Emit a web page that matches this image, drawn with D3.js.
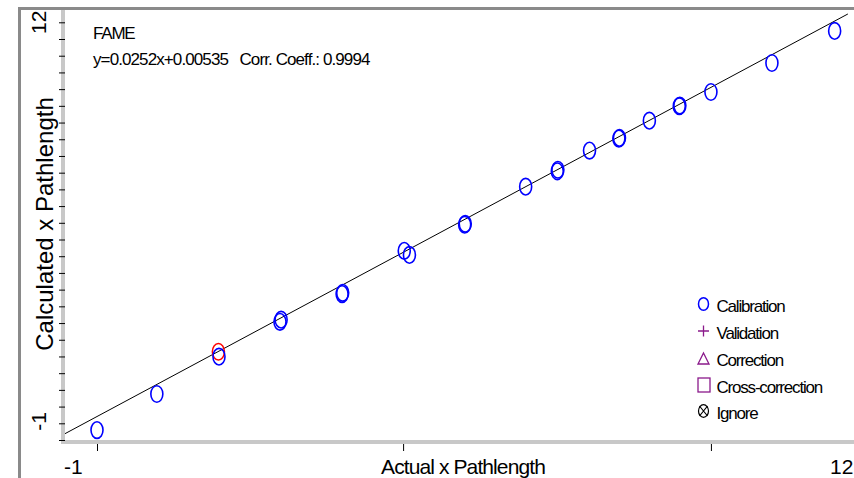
<!DOCTYPE html>
<html>
<head>
<meta charset="utf-8">
<script src="https://cdn.jsdelivr.net/npm/d3@7"></script>
<style>
  body { margin: 0; background: #fff; }
  text { font-family: "Liberation Sans", Arial, sans-serif; fill: #000; white-space: pre; }
</style>
</head>
<body>
<div id="chart-area"></div>
<script>
// reference vs predicted values (x pathlength)
var actual     = [-1.00, 0.04, 1.12, 2.18, 2.20, 3.26, 3.27, 4.34, 4.43, 5.39, 5.40, 6.45, 7.00, 7.01, 7.56, 8.07, 8.08, 8.60, 9.12, 9.13, 9.67, 10.73, 11.82];
var calculated = [-1.22, -0.05, 1.16, 2.29, 2.36, 3.19, 3.23, 4.59, 4.46, 5.44, 5.47, 6.67, 7.17, 7.22, 7.84, 8.23, 8.25, 8.81, 9.28, 9.30, 9.74, 10.68, 11.72];

// one sample shown in red
var flaggedActual = [1.11];
var flaggedCalc   = [1.32];

var lineSlope = 1.0;
var lineIntercept = 0.22;

var legendNames = ["Calibration", "Validation", "Correction", "Cross-correction", "Ignore"];
var xTickValues = [-1, 4.32, 9.67];
var yTickStep = 13 / 24;
var titleText = "FAME";
var equationText = "y=0.0252x+0.00535   Corr. Coeff.: 0.9994";

var width = 854;
var height = 478;

var svg = d3.select('#chart-area')
    .append('svg')
        .attr('width', width)
        .attr('height', height);

var x = d3.scaleLinear()
    .domain([-1, 12])
    .range([97, 845]);

var y = d3.scaleLinear()
    .domain([-1, 12])
    .range([423.3, 22.3]);

// outer frame
svg.append('rect').attr('x', 18).attr('y', 7).attr('width', width - 18).attr('height', 3).attr('fill', '#8a8a8a');
svg.append('rect').attr('x', 18).attr('y', 7).attr('width', 3).attr('height', height - 7).attr('fill', '#8a8a8a');

// axis bars
svg.append('rect').attr('x', 61).attr('y', 10).attr('width', 4).attr('height', 434).attr('fill', '#c8c8c8');
svg.append('rect').attr('x', 61).attr('y', 440).attr('width', width - 61).attr('height', 4).attr('fill', '#c8c8c8');

// y ticks
var yTicks = d3.range(-1 - yTickStep, 12.01, yTickStep);
var yAxis = d3.axisLeft(y)
    .tickValues(yTicks)
    .tickSize(6)
    .tickFormat('');
svg.append('g')
    .attr('class', 'left axis')
    .attr('transform', 'translate(65,0)')
    .call(yAxis)
    .call(g => g.select('.domain').remove())
    .selectAll('line').attr('stroke', '#000').attr('stroke-width', 1);

// x ticks
var xAxis = d3.axisBottom(x)
    .tickValues(xTickValues)
    .tickSize(7)
    .tickFormat('');
svg.append('g')
    .attr('class', 'bottom axis')
    .attr('transform', 'translate(0,444)')
    .call(xAxis)
    .call(g => g.select('.domain').remove())
    .selectAll('line').attr('stroke', '#000').attr('stroke-width', 1);

// end labels
svg.append('text')
    .attr('transform', 'translate(46,' + y(12) + ') rotate(-90)')
    .attr('text-anchor', 'middle')
    .attr('font-size', '21px')
    .text('12');
svg.append('text')
    .attr('transform', 'translate(46,' + (y(-1) - 2) + ') rotate(-90)')
    .attr('text-anchor', 'middle')
    .attr('font-size', '21px')
    .text('-1');
svg.append('text')
    .attr('x', 64).attr('y', 474)
    .attr('font-size', '21px')
    .text('-1');
svg.append('text')
    .attr('x', 830).attr('y', 474)
    .attr('font-size', '21px')
    .text('12');

// axis titles
svg.append('text')
    .attr('transform', 'translate(53,224) rotate(-90)')
    .attr('text-anchor', 'middle')
    .attr('font-size', '24px')
    .text('Calculated x Pathlength');
svg.append('text')
    .attr('x', 463).attr('y', 474)
    .attr('text-anchor', 'middle')
    .attr('font-size', '21px')
    .attr('letter-spacing', '-0.9px')
    .text('Actual x Pathlength');

// plot area clip
svg.append('clipPath').attr('id', 'plot-clip')
    .append('rect').attr('x', 65).attr('y', 10).attr('width', width - 65).attr('height', 430);

var plot = svg.append('g').attr('clip-path', 'url(#plot-clip)');

// regression line
var lineX = [-1.6, 12.05];
plot.append('line')
    .attr('x1', x(lineX[0])).attr('y1', y(lineSlope * lineX[0] + lineIntercept))
    .attr('x2', x(lineX[1])).attr('y2', y(lineSlope * lineX[1] + lineIntercept))
    .attr('stroke', '#000')
    .attr('stroke-width', 1);

// flagged sample
plot.selectAll('ellipse.flag').data(flaggedActual)
    .enter()
    .append('ellipse')
    .attr('class', 'flag')
    .attr('cx', (d) => x(d))
    .attr('cy', (d, i) => y(flaggedCalc[i]))
    .attr('rx', 6)
    .attr('ry', 8.3)
    .attr('fill', 'none')
    .attr('stroke', '#ff0000')
    .attr('stroke-width', 1.6);

// calibration samples
plot.selectAll('ellipse.cal').data(actual)
    .enter()
    .append('ellipse')
    .attr('class', 'cal')
    .attr('cx', (d) => x(d))
    .attr('cy', (d, i) => y(calculated[i]))
    .attr('rx', 6)
    .attr('ry', 8.3)
    .attr('fill', 'none')
    .attr('stroke', '#0000ff')
    .attr('stroke-width', 1.6);

// header text
svg.append('text')
    .attr('x', 93).attr('y', 39)
    .attr('font-size', '17px')
    .attr('letter-spacing', '-1.2px')
    .text(titleText);
svg.append('text')
    .attr('x', 93).attr('y', 65)
    .attr('font-size', '17px')
    .attr('letter-spacing', '-0.9px')
    .text(equationText);

// legend
var legend = svg.append('g').attr('transform', 'translate(703.5,0)');
var purple = '#8b1a8b';
var rowY = [304, 331, 358, 385, 411];

legend.append('ellipse')
    .attr('cx', 0).attr('cy', rowY[0])
    .attr('rx', 5).attr('ry', 6.3)
    .attr('fill', 'none').attr('stroke', '#0000ff').attr('stroke-width', 1.5);

legend.append('path')
    .attr('d', 'M-5.5,' + rowY[1] + 'H5.5M0,' + (rowY[1] - 5.5) + 'V' + (rowY[1] + 5.5))
    .attr('stroke', purple).attr('stroke-width', 1.3).attr('fill', 'none');

legend.append('path')
    .attr('d', 'M0,' + (rowY[2] - 5) + 'L5.5,' + (rowY[2] + 6) + 'L-5.5,' + (rowY[2] + 6) + 'Z')
    .attr('stroke', purple).attr('stroke-width', 1.3).attr('fill', 'none');

legend.append('rect')
    .attr('x', -5.5).attr('y', rowY[3] - 7)
    .attr('width', 12).attr('height', 14)
    .attr('stroke', purple).attr('stroke-width', 1.3).attr('fill', 'none');

legend.append('ellipse')
    .attr('cx', 0).attr('cy', rowY[4])
    .attr('rx', 5).attr('ry', 6.3)
    .attr('fill', 'none').attr('stroke', '#000').attr('stroke-width', 1.2);
legend.append('path')
    .attr('d', 'M-4,' + (rowY[4] - 5) + 'L4,' + (rowY[4] + 5) + 'M4,' + (rowY[4] - 5) + 'L-4,' + (rowY[4] + 5))
    .attr('stroke', '#000').attr('stroke-width', 1.2).attr('fill', 'none');

legend.selectAll('text.leg').data(legendNames)
    .enter()
    .append('text')
    .attr('class', 'leg')
    .attr('x', 13)
    .attr('y', (d, i) => rowY[i] + 8)
    .attr('font-size', '17px')
    .attr('letter-spacing', '-1.2px')
    .text((d) => d);
</script>
</body>
</html>
